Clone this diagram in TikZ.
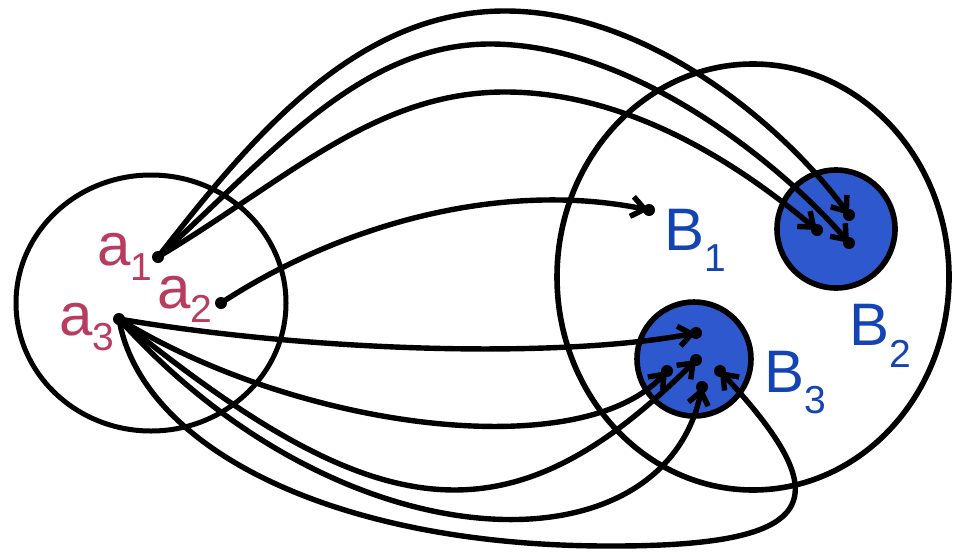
\documentclass[tikz,border=0pt]{standalone}
\usepackage{fontspec}
\setmainfont{Liberation Sans}
\usepackage{tikz}
\usetikzlibrary{arrows.meta}

\definecolor{labelred}{HTML}{B93C5F}
\definecolor{labelblue}{HTML}{1443B4}
\definecolor{setblue}{HTML}{2D58CE}
\newcommand{\idx}[3]{#1\raisebox{-#3}{\fontsize{39}{39}\selectfont #2}}

\begin{document}
\begin{tikzpicture}[x=1pt,y=-1pt,
  every node/.style={font=\fontsize{60}{60}\selectfont,inner sep=0pt},
  endpt/.style={circle,fill=black,minimum size=12pt},
  link/.style={line width=5.4pt,-{Straight Barb[length=13pt,width=20pt]}}]
  \useasboundingbox (0,0) rectangle (957,551);
  % the sets
  \draw[line width=5pt] (151,303) ellipse [x radius=135,y radius=128];
  \draw[line width=5.6pt] (753,277) ellipse [x radius=196,y radius=213];
  \draw[line width=5.6pt,fill=setblue] (836,229) circle [radius=59];
  \draw[line width=5.6pt,fill=setblue] (694,359) circle [radius=57];
  % points
  \foreach \name/\position in {a1/{158,257},a2/{221,303},a3/{119,319},b1/{649,210},
    b2a/{849,215},b2b/{817,230},b2c/{849,243},
    b3a/{696,333},b3b/{696,360},b3c/{667,371},b3d/{702,387},b3e/{720,371}}
    \node[endpt] (\name) at (\position) {};
  % arrows from a1
  \draw[link] (a1.center) .. controls (250,139) and (355,11) .. (505,11)
    .. controls (655,11) and (791,135) .. (b2a.center);
  \draw[link] (a1.center) .. controls (269,157) and (360,44) .. (490,44)
    .. controls (640,44) and (790,174) .. (b2c.center);
  \draw[link] (a1.center) .. controls (287,180) and (375,92) .. (505,92)
    .. controls (635,92) and (748,172) .. (b2b.center);
  % arrow from a2
  \draw[link] (a2.center) .. controls (340,225) and (500,180) .. (b1.center);
  % arrows from a3
  \draw[link] (a3.center) .. controls (300,350) and (550,360) .. (b3a.center);
  \draw[link] (a3.center) .. controls (300,430) and (580,465) .. (b3c.center);
  \draw[link] (a3.center) .. controls (371,523) and (504,552) .. (b3b.center);
  \draw[link] (a3.center) .. controls (344,569) and (662,575) .. (b3d.center);
  \draw[link] (a3.center) .. controls (141,447) and (333,547) .. (613,546)
    .. controls (823,546) and (839,499) .. (b3e.center);
  % labels
  \node[anchor=base west,text=labelred] (la1) at (97,265) {\idx{a}{1}{15pt}};
  \node[anchor=base west,text=labelred] (la2) at (157,308) {\idx{a}{2}{14pt}};
  \node[anchor=base west,text=labelred] (la3) at (59,335) {\idx{a}{3}{15pt}};
  \node[anchor=base west,text=labelblue] (lb1) at (664,250) {\idx{B}{1}{21pt}};
  \node[anchor=base west,text=labelblue] (lb2) at (849,345) {\idx{B}{2}{22pt}};
  \node[anchor=base west,text=labelblue] (lb3) at (764,392) {\idx{B}{3}{21pt}};
\end{tikzpicture}
\end{document}
